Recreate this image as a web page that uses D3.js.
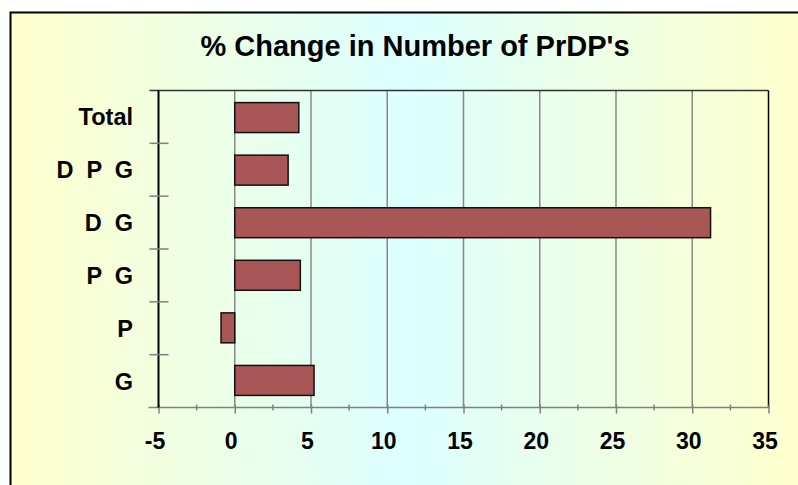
<!DOCTYPE html>
<html>
<head>
<meta charset="utf-8">
<script src="https://cdn.jsdelivr.net/npm/d3@7"></script>
<style>
  body { margin: 0; background: #fff; }
  svg { display: block; font-family: Arial, "Liberation Sans", sans-serif; }
</style>
</head>
<body>
<svg width="798" height="485"></svg>
<script>
var title = "% Change in Number of PrDP's";
var categories = ['Total', 'D  P  G', 'D  G', 'P  G', 'P', 'G'];
var values = [4.2, 3.5, 31.2, 4.3, -0.9, 5.2];
var xTicks = [-5, 0, 5, 10, 15, 20, 25, 30, 35];

var width = 798;
var height = 485;
var plot = { left: 158.5, right: 768.5, top: 90.5, bottom: 407.5 };

var svg = d3.select('svg');

// background gradient: yellow -> cyan -> yellow
var defs = svg.append('defs');
var grad = defs.append('linearGradient').attr('id', 'bg')
  .attr('x1', '0%').attr('x2', '100%').attr('y1', '0%').attr('y2', '0%');
grad.append('stop').attr('offset', '0%').attr('stop-color', '#ffffcc');
grad.append('stop').attr('offset', '50%').attr('stop-color', '#dcffff');
grad.append('stop').attr('offset', '100%').attr('stop-color', '#ffffcc');

svg.append('rect')
  .attr('x', 10.5).attr('y', 12.5)
  .attr('width', 790).attr('height', 500)
  .attr('fill', 'url(#bg)')
  .attr('stroke', '#000').attr('stroke-width', 2);

// title
svg.append('text')
  .attr('x', 415).attr('y', 56)
  .attr('text-anchor', 'middle')
  .attr('font-size', 29).attr('font-weight', 'bold')
  .text(title);

// scales ------------------------------------------------------------------
var x = d3.scaleLinear().domain([-5, 35]).range([plot.left, plot.right]);
var y = d3.scaleBand().domain(categories)
  .range([plot.top, plot.bottom]).paddingInner(0.43).paddingOuter(0.23);
var yBand = d3.scaleBand().domain(categories).range([plot.top, plot.bottom]);

// gridlines
svg.append('g').selectAll('line').data(xTicks.filter(d => d > -5 && d < 35)).enter()
  .append('line')
  .attr('x1', d => x(d)).attr('x2', d => x(d))
  .attr('y1', plot.top).attr('y2', plot.bottom)
  .attr('stroke', '#888').attr('stroke-width', 1.5);

// plot frame: top and right
svg.append('line')
  .attr('x1', plot.left - 9).attr('x2', plot.right)
  .attr('y1', plot.top).attr('y2', plot.top)
  .attr('stroke', '#333').attr('stroke-width', 1.5);
svg.append('line')
  .attr('x1', plot.right).attr('x2', plot.right)
  .attr('y1', plot.top).attr('y2', plot.bottom)
  .attr('stroke', '#000').attr('stroke-width', 1.5);

// bars
svg.append('g').selectAll('rect').data(values).enter()
  .append('rect')
  .attr('x', d => x(Math.min(0, d)))
  .attr('width', d => Math.abs(x(d) - x(0)))
  .attr('y', (d, i) => y(categories[i]))
  .attr('height', y.bandwidth())
  .attr('fill', '#a85656')
  .attr('stroke', '#111').attr('stroke-width', 1.5);

// x axis
var xAxis = d3.axisBottom(x).tickValues(xTicks).tickSize(6).tickFormat(d => String(d));
var gx = svg.append('g')
  .attr('transform', 'translate(0,' + plot.bottom + ')')
  .call(xAxis);
gx.select('.domain').remove();
gx.append('line')
  .attr('x1', plot.left - 10).attr('x2', plot.right)
  .attr('stroke', '#808080').attr('stroke-width', 1.5);
gx.selectAll('.tick line').attr('stroke', '#808080').attr('stroke-width', 1.5).attr('y1', -3);
gx.selectAll('.tick text')
  .attr('x', -4).attr('y', 41).attr('dy', 0)
  .attr('font-size', 23).attr('font-weight', 'bold')
  .attr('font-family', 'Arial, "Liberation Sans", sans-serif')
  .attr('fill', '#000');

// minor ticks
var minor = d3.range(-2.5, 35, 5);
svg.append('g').selectAll('line').data(minor).enter()
  .append('line')
  .attr('x1', d => x(d)).attr('x2', d => x(d))
  .attr('y1', plot.bottom - 3).attr('y2', plot.bottom + 3)
  .attr('stroke', '#808080').attr('stroke-width', 1.5);

// y axis
svg.append('line')
  .attr('x1', plot.left).attr('x2', plot.left)
  .attr('y1', plot.top).attr('y2', plot.bottom)
  .attr('stroke', '#000').attr('stroke-width', 2);

var bounds = categories.slice(1).map(c => yBand(c));
svg.append('g').selectAll('line').data(bounds).enter()
  .append('line')
  .attr('x1', plot.left - 9).attr('x2', plot.left + 10)
  .attr('y1', d => d).attr('y2', d => d)
  .attr('stroke', '#808080').attr('stroke-width', 1.5);

svg.append('g').selectAll('text').data(categories).enter()
  .append('text')
  .attr('x', 133)
  .attr('y', d => yBand(d) + yBand.bandwidth() / 2 + 8.5)
  .attr('text-anchor', 'end')
  .attr('font-size', 23.5).attr('font-weight', 'bold')
  .style('white-space', 'pre')
  .text(d => d);
</script>
</body>
</html>
